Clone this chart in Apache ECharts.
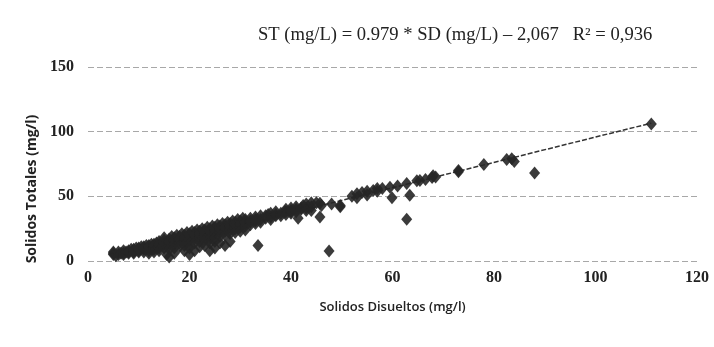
<!DOCTYPE html>
<html>
<head>
<meta charset="utf-8">
<script src="https://cdn.jsdelivr.net/npm/echarts@6/dist/echarts.min.js"></script>
<style>html,body{margin:0;padding:0;background:#fff;}#chart{width:714px;height:347px;}</style>
</head>
<body>
<div id="chart"></div>
<script>
const chartTitle = 'ST (mg/L) = 0.979 * SD (mg/L) \u2013 2,067   R\u00B2 = 0,936';
const xAxisName = 'Solidos Disueltos (mg/l)';
const yAxisName = 'Solidos Totales (mg/l)';
const xTicks = [0, 20, 40, 60, 80, 100, 120];
const yTicks = [0, 50, 100, 150];

const observations = [
  [5,5],[5,6],[5,7],[5.5,4],[6,5],[6,7],[6.5,6],[7,6],[7,8],[7,5],[7.5,7],
  [8,6],[8,8],[8,7],[8.5,9],[9,7],[9,9],[9,6],[9.5,10],[9,8],
  [10,8],[10,10],[10,7],[10.5,11],[10,9],[11,9],[11,11],[11,7],[11.5,12],[11,10],
  [12,10],[12,12],[12,8],[12.5,13],[12,11],[12,6],[13,11],[13,13],[13,9],[13.5,14],[13,12],[13,7],
  [14,12],[14,15],[14,10],[14,13],[14,8],[15,13],[15,16],[15,10],[15,14],[15.5,5],[15,18],
  [16,14],[16,17],[16,12],[16,15],[16,9],[16.5,19],[16,3],[17,15],[17,18],[17,13],[17,16],[17,10],[17.5,20],[17,6],
  [18,16],[18,19],[18,14],[18,17],[18,11],[18.5,21],[19,17],[19,20],[19,15],[19,18],[19,12],[19.5,22],[19,8],
  [20,18],[20,21],[20,16],[20,19],[20,13],[20.5,23],[20,5],[20,10],[21,19],[21,22],[21,17],[21,20],[21,14],[21.5,24],[21,8],
  [22,20],[22,23],[22,18],[22,21],[22,15],[22.5,25],[22,11],[23,21],[23,24],[23,19],[23,22],[23,16],[23.5,26],[23,12],
  [24,22],[24,25],[24,20],[24,23],[24,17],[24.5,27],[24,14],[24,8],[25,23],[25,26],[25,21],[25,24],[25,18],[25.5,28],[25,15],[25,10],
  [26,24],[26,27],[26,22],[26,25],[26,19],[26.5,29],[26,14],[27,25],[27,28],[27,23],[27,26],[27,20],[27.5,30],[27,12],
  [28,26],[28,29],[28,24],[28,27],[28,21],[28.5,31],[28,15],[29,27],[29,30],[29,25],[29,28],[29,22],[29.5,32],
  [30,28],[30,31],[30,26],[30,29],[30,23],[30.5,33],[31,29],[31,32],[31,27],[31,30],[31,24],
  [32,30],[32,33],[32,28],[32,31],[33,31],[33,34],[33,29],[33,32],[34,32],[34,35],[34,30],[33.5,12],
  [35,33],[35.5,36],[35,35],[36,34],[36,37],[36,32],[37,35],[37,38],[37,36],[38,37],[38.8,38],[38,35],
  [39,38],[39,40],[39,36],[40,38],[40,41],[40,37],[40,39],[41.4,33],[41,40],[41,42],[41,38],
  [42,40],[42.4,43],[42,41],[43,41],[43,44],[43,39],[44,42],[44,39],[44,45],[45.7,44.6],[45.7,34],[45,45],
  [46,43],[47.5,7.7],[48,44],[49.7,42],[49.7,43],
  [52,50],[53,52],[53,49],[54,53],[55,54],[55,51],[56.2,54.6],[57,54],[57,56],[58,56],
  [59.5,57],[59.9,49],[61,58],[62.8,60],[62.8,32.3],[63.4,50.8],[64.8,62],[65.4,62.3],[66.5,63],
  [67.8,64.6],[68,66],[68.5,65],[73,69],[73,70],[78,74.6],[82.5,78.5],[83.5,79],[84,77],[88,68],[111,106]
];
// trend line end points
const trendLine = [[5, 2.8], [111, 106.6]];

const chart = echarts.init(document.getElementById('chart'));
chart.setOption({
  backgroundColor: '#ffffff',
  animation: false,
  title: {
    text: chartTitle,
    left: 253, top: 21,
    textStyle: { fontFamily: 'Liberation Serif', fontWeight: 'normal', fontSize: 18.6, color: '#222' }
  },
  grid: { left: 88, right: 17, top: 67, bottom: 86 },
  xAxis: {
    type: 'value', min: 0, max: 120, interval: 20,
    name: xAxisName, nameLocation: 'middle', nameGap: 40,
    nameTextStyle: { fontFamily: 'Open Sans', fontWeight: 600, fontSize: 13, color: '#222' },
    axisLine: { show: false }, axisTick: { show: false },
    splitLine: { show: false },
    axisLabel: { margin: 9, fontFamily: 'Liberation Serif', fontWeight: 'bold', fontSize: 16, color: '#222',
      formatter: v => xTicks.includes(v) ? String(v) : '' }
  },
  yAxis: {
    type: 'value', min: 0, max: 150, interval: 50,
    name: yAxisName, nameLocation: 'middle', nameGap: 45,
    nameTextStyle: { fontFamily: 'Open Sans', fontWeight: 'bold', fontSize: 14, color: '#222', padding: [0, 50, 0, 0] },
    axisLine: { show: false }, axisTick: { show: false },
    splitLine: { show: true, lineStyle: { color: '#a8a8a8', type: [6, 3], width: 1 } },
    axisLabel: { margin: 14, fontFamily: 'Liberation Serif', fontWeight: 'bold', fontSize: 16, color: '#222',
      formatter: v => yTicks.includes(v) ? String(v) : '' }
  },
  series: [
    {
      type: 'line', data: trendLine, symbol: 'none', z: 1,
      lineStyle: { color: '#333', width: 1.5, type: [5, 2] }
    },
    {
      type: 'scatter', data: observations, symbol: 'diamond', symbolSize: [11, 13], z: 2,
      itemStyle: { color: '#262626', opacity: 0.9 }
    }
  ]
});
</script>
</body>
</html>
